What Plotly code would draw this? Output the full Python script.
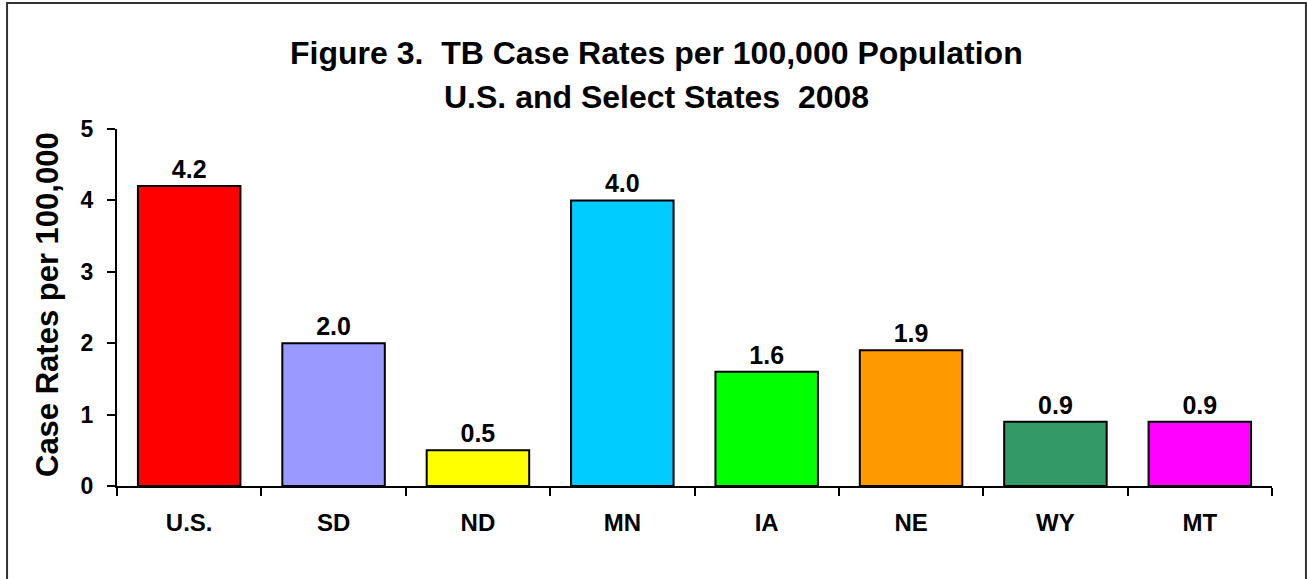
import plotly.graph_objects as go

categories = ["U.S.", "SD", "ND", "MN", "IA", "NE", "WY", "MT"]
rates = [4.2, 2.0, 0.5, 4.0, 1.6, 1.9, 0.9, 0.9]
bar_colors = ["#FF0000", "#9999FF", "#FFFF00", "#00CCFF", "#00FF00", "#FF9900", "#339966", "#FF00FF"]
y_ticks = [0, 1, 2, 3, 4, 5]
title_lines = ["Figure 3.  TB Case Rates per 100,000 Population", "U.S. and Select States  2008"]
y_title = "Case Rates per 100,000"

FONT = "Liberation Sans, Arial, sans-serif"

fig = go.Figure(go.Bar(
    x=categories,
    y=rates,
    marker=dict(color=bar_colors, line=dict(color="black", width=2)),
    text=[f"<b>{v:.1f}</b>" for v in rates],
    textposition="outside",
    textfont=dict(family=FONT, size=25, color="black"),
    cliponaxis=False,
    width=0.71,
))

fig.update_layout(
    width=1307, height=579,
    margin=dict(l=117, r=35, t=129, b=93),
    paper_bgcolor="white", plot_bgcolor="white",
    showlegend=False,
    xaxis=dict(
        showline=True, linecolor="black", linewidth=2,
        ticks="outside", tickson="boundaries", ticklen=8, tickwidth=2, tickcolor="black",
        tickfont=dict(family=FONT, size=24, color="black"),
        tickvals=categories, ticktext=[f"<b>{c}</b>" for c in categories],
        ticklabelstandoff=14,
        showgrid=False,
    ),
    yaxis=dict(
        range=[0, 5], tickvals=y_ticks,
        ticktext=[f"<b>{t}</b>" for t in y_ticks],
        showline=True, linecolor="black", linewidth=2,
        ticks="outside", ticklen=8, tickwidth=2, tickcolor="black",
        tickfont=dict(family=FONT, size=23, color="black"),
        ticklabelstandoff=9,
        showgrid=False, zeroline=False,
    ),
    annotations=[
        dict(text=f"<b>{title_lines[0]}</b>", xref="paper", yref="paper",
             x=0.4667, y=1.2129, xanchor="center", yanchor="middle", showarrow=False,
             font=dict(family=FONT, size=32, color="black")),
        dict(text=f"<b>{title_lines[1]}</b>", xref="paper", yref="paper",
             x=0.4667, y=1.0896, xanchor="center", yanchor="middle", showarrow=False,
             font=dict(family=FONT, size=32, color="black")),
        dict(text=f"<b>{y_title}</b>", xref="paper", yref="paper",
             x=-0.0606, y=0.507, xanchor="center", yanchor="middle", showarrow=False,
             textangle=-90, font=dict(family=FONT, size=31, color="black")),
    ],
    shapes=[dict(type="rect", xref="paper", yref="paper",
                 x0=-0.0952, x1=1.0294, y0=-0.3, y1=1.353,
                 line=dict(color="#333333", width=2), fillcolor="rgba(0,0,0,0)", layer="below")],
)

fig.write_html("out.html", config={"displayModeBar": False},
               post_script="document.body.style.margin='0';")
